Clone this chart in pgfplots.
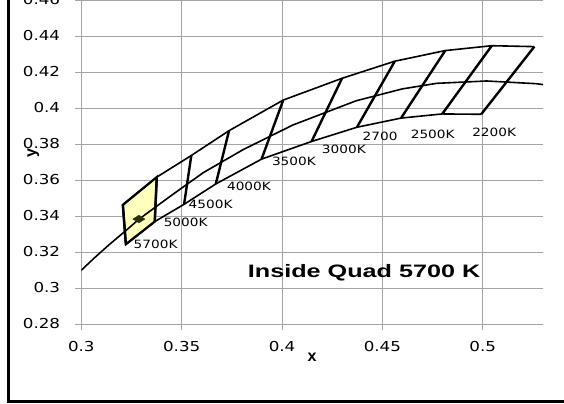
\documentclass[border=0pt]{standalone}
\usepackage{fontspec}
\setmainfont{DejaVu Sans}
\newfontfamily\labfont{DejaVu Sans}[FakeStretch=1.2]
\newfontfamily\tickfont{DejaVu Sans}[FakeStretch=1.22]
\newfontfamily\titlefont{Liberation Sans}[FakeStretch=1.4]
\newfontfamily\axfont{Liberation Sans}
\usepackage{pgfplots}
\pgfplotsset{compat=1.18}
\definecolor{gridgray}{RGB}{165,165,165}
\definecolor{quadfill}{RGB}{255,255,190}
\definecolor{markcol}{RGB}{45,45,10}
\begin{document}
\begin{tikzpicture}
\begin{axis}[
  scale only axis, width=461.7bp, height=324bp,
  xmin=0.3, xmax=0.53, ymin=0.28, ymax=0.46,
  xtick={0.3,0.35,0.4,0.45,0.5},
  ytick={0.28,0.3,0.32,0.34,0.36,0.38,0.4,0.42,0.44,0.46},
  grid=major, grid style={draw=gridgray, line width=0.8bp},
  axis x line*=bottom, axis y line*=left,
  axis line style={draw=gridgray, line width=0.8bp, -},
  tick align=outside, major tick length=6bp,
  tick style={draw=gridgray, line width=0.8bp},
  /pgf/number format/assume math mode=true,
  ticklabel style={font=\tickfont\fontsize{13.7bp}{16bp}\selectfont, inner sep=0pt},
  xticklabel style={anchor=center, yshift=-17bp},
  yticklabel style={anchor=east, xshift=-15bp},
  xlabel={x}, ylabel={y},
  xlabel style={at={([yshift=-33bp]axis description cs:0.5,0)}, anchor=center, inner sep=0pt, font=\axfont\bfseries\fontsize{16bp}{18bp}\selectfont},
  ylabel style={at={([xshift=-48bp]axis description cs:0,0.527)}, anchor=center, inner sep=0pt, font=\axfont\bfseries\fontsize{16bp}{18bp}\selectfont},
  clip=true,
]
% 5700K quad fill
\addplot[fill=quadfill, draw=black, line width=2.2bp] coordinates {
  (0.3207,0.3462) (0.3376,0.3616) (0.3366,0.3369) (0.3222,0.3243)} -- cycle;
% Planckian locus (middle curve)
\addplot[black, line width=1.6bp] coordinates {
  (0.2952,0.3048) (0.3064,0.3166) (0.3135,0.3237) (0.3221,0.3318) (0.3287,0.3382)
  (0.3451,0.3516) (0.3608,0.3641) (0.3805,0.3768) (0.4053,0.3905) (0.4369,0.4040)
  (0.4599,0.4106) (0.4770,0.4137) (0.5019,0.4150) (0.5267,0.4135) (0.5400,0.4115)};
% upper curve
\addplot[black, line width=1.6bp] coordinates {
  (0.3207,0.3462) (0.3376,0.3616) (0.3548,0.3736) (0.3736,0.3874) (0.4006,0.4044)
  (0.4299,0.4165) (0.4562,0.4260) (0.4813,0.4319) (0.5045,0.4346) (0.5257,0.4341)};
% lower curve
\addplot[black, line width=1.6bp] coordinates {
  (0.3222,0.3243) (0.3366,0.3369) (0.3512,0.3465) (0.3670,0.3578) (0.3898,0.3716)
  (0.4147,0.3814) (0.4373,0.3893) (0.4593,0.3944) (0.4798,0.3967) (0.4992,0.3965)};
% slanted boundary lines
\addplot[black, line width=2.4bp] coordinates {(0.3207,0.3462) (0.3222,0.3243)};
\addplot[black, line width=2.4bp] coordinates {(0.3376,0.3616) (0.3366,0.3369)};
\addplot[black, line width=2.4bp] coordinates {(0.3548,0.3736) (0.3512,0.3465)};
\addplot[black, line width=2.4bp] coordinates {(0.3736,0.3874) (0.3670,0.3578)};
\addplot[black, line width=2.4bp] coordinates {(0.4006,0.4044) (0.3898,0.3716)};
\addplot[black, line width=2.4bp] coordinates {(0.4299,0.4165) (0.4147,0.3814)};
\addplot[black, line width=2.4bp] coordinates {(0.4562,0.4260) (0.4373,0.3893)};
\addplot[black, line width=2.4bp] coordinates {(0.4813,0.4319) (0.4593,0.3944)};
\addplot[black, line width=2.4bp] coordinates {(0.5045,0.4346) (0.4798,0.3967)};
\addplot[black, line width=2.4bp] coordinates {(0.5257,0.4341) (0.4992,0.3965)};
% point inside quad
\addplot[only marks, mark=diamond*, mark size=4.5bp, mark options={fill=markcol, draw=markcol, xscale=1.8, yscale=0.85}] coordinates {(0.3287,0.3383)};
% labels
\begin{scope}[every node/.style={font=\labfont\fontsize{11.4bp}{13bp}\selectfont, inner sep=0pt, anchor=center}]
\node at (axis cs:0.33701,0.32444) {5700K};
\node at (axis cs:0.35199,0.33628) {5000K};
\node at (axis cs:0.36443,0.34667) {4500K};
\node at (axis cs:0.38353,0.35667) {4000K};
\node at (axis cs:0.40592,0.37017) {3500K};
\node at (axis cs:0.43080,0.37706) {3000K};
\node at (axis cs:0.44886,0.38444) {2700};
\node at (axis cs:0.47507,0.38556) {2500K};
\node at (axis cs:0.50567,0.38667) {2200K};
\end{scope}
\node[anchor=base, inner sep=0pt, font=\titlefont\bfseries\fontsize{18bp}{20bp}\selectfont] at (axis cs:0.4409,0.30556) {Inside Quad 5700 K};
\end{axis}
\draw[line width=3bp, line cap=rect] (-72.8bp,330bp) -- (-72.8bp,-77.5bp) -- (490bp,-77.5bp);
\pgfresetboundingbox
\useasboundingbox (-81.3bp,-80bp) rectangle (482.7bp,324bp);
\end{tikzpicture}
\end{document}
